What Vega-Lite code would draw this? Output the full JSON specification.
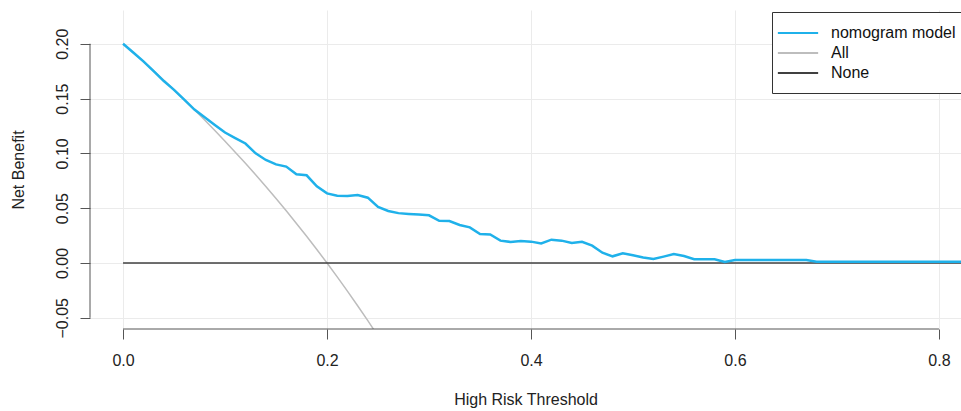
{
  "$schema": "https://vega.github.io/schema/vega-lite/v6.json",
  "width": 871,
  "height": 319,
  "autosize": {"type": "none"},
  "padding": {"left": 90, "top": 10, "right": 0, "bottom": 82},
  "background": "white",
  "config": {
    "view": {"stroke": null},
    "font": "Liberation Sans",
    "axis": {"labelFont": "Liberation Sans", "titleFont": "Liberation Sans"},
    "legend": {"labelFont": "Liberation Sans"}
  },
  "datasets": {
    "curves": [
      {"t": 0.00, "nb": 0.200, "series": "nomogram model"},
      {"t": 0.01, "nb": 0.192, "series": "nomogram model"},
      {"t": 0.02, "nb": 0.184, "series": "nomogram model"},
      {"t": 0.03, "nb": 0.175, "series": "nomogram model"},
      {"t": 0.04, "nb": 0.166, "series": "nomogram model"},
      {"t": 0.05, "nb": 0.158, "series": "nomogram model"},
      {"t": 0.06, "nb": 0.149, "series": "nomogram model"},
      {"t": 0.07, "nb": 0.140, "series": "nomogram model"},
      {"t": 0.08, "nb": 0.133, "series": "nomogram model"},
      {"t": 0.09, "nb": 0.126, "series": "nomogram model"},
      {"t": 0.10, "nb": 0.119, "series": "nomogram model"},
      {"t": 0.11, "nb": 0.114, "series": "nomogram model"},
      {"t": 0.12, "nb": 0.109, "series": "nomogram model"},
      {"t": 0.13, "nb": 0.100, "series": "nomogram model"},
      {"t": 0.14, "nb": 0.094, "series": "nomogram model"},
      {"t": 0.15, "nb": 0.090, "series": "nomogram model"},
      {"t": 0.16, "nb": 0.088, "series": "nomogram model"},
      {"t": 0.17, "nb": 0.081, "series": "nomogram model"},
      {"t": 0.18, "nb": 0.080, "series": "nomogram model"},
      {"t": 0.19, "nb": 0.070, "series": "nomogram model"},
      {"t": 0.20, "nb": 0.0635, "series": "nomogram model"},
      {"t": 0.21, "nb": 0.0614, "series": "nomogram model"},
      {"t": 0.22, "nb": 0.0612, "series": "nomogram model"},
      {"t": 0.23, "nb": 0.0620, "series": "nomogram model"},
      {"t": 0.24, "nb": 0.0596, "series": "nomogram model"},
      {"t": 0.25, "nb": 0.0512, "series": "nomogram model"},
      {"t": 0.26, "nb": 0.0475, "series": "nomogram model"},
      {"t": 0.27, "nb": 0.0455, "series": "nomogram model"},
      {"t": 0.28, "nb": 0.0448, "series": "nomogram model"},
      {"t": 0.29, "nb": 0.0442, "series": "nomogram model"},
      {"t": 0.30, "nb": 0.0435, "series": "nomogram model"},
      {"t": 0.31, "nb": 0.0385, "series": "nomogram model"},
      {"t": 0.32, "nb": 0.0383, "series": "nomogram model"},
      {"t": 0.33, "nb": 0.0347, "series": "nomogram model"},
      {"t": 0.34, "nb": 0.0325, "series": "nomogram model"},
      {"t": 0.35, "nb": 0.0265, "series": "nomogram model"},
      {"t": 0.36, "nb": 0.0260, "series": "nomogram model"},
      {"t": 0.37, "nb": 0.0204, "series": "nomogram model"},
      {"t": 0.38, "nb": 0.0192, "series": "nomogram model"},
      {"t": 0.39, "nb": 0.0200, "series": "nomogram model"},
      {"t": 0.40, "nb": 0.0195, "series": "nomogram model"},
      {"t": 0.41, "nb": 0.0179, "series": "nomogram model"},
      {"t": 0.42, "nb": 0.0213, "series": "nomogram model"},
      {"t": 0.43, "nb": 0.0204, "series": "nomogram model"},
      {"t": 0.44, "nb": 0.0182, "series": "nomogram model"},
      {"t": 0.45, "nb": 0.0194, "series": "nomogram model"},
      {"t": 0.46, "nb": 0.0158, "series": "nomogram model"},
      {"t": 0.47, "nb": 0.0094, "series": "nomogram model"},
      {"t": 0.48, "nb": 0.0061, "series": "nomogram model"},
      {"t": 0.49, "nb": 0.0088, "series": "nomogram model"},
      {"t": 0.50, "nb": 0.0070, "series": "nomogram model"},
      {"t": 0.51, "nb": 0.0050, "series": "nomogram model"},
      {"t": 0.52, "nb": 0.0036, "series": "nomogram model"},
      {"t": 0.53, "nb": 0.0058, "series": "nomogram model"},
      {"t": 0.54, "nb": 0.0082, "series": "nomogram model"},
      {"t": 0.55, "nb": 0.0064, "series": "nomogram model"},
      {"t": 0.56, "nb": 0.0034, "series": "nomogram model"},
      {"t": 0.57, "nb": 0.0034, "series": "nomogram model"},
      {"t": 0.58, "nb": 0.0034, "series": "nomogram model"},
      {"t": 0.59, "nb": 0.0009, "series": "nomogram model"},
      {"t": 0.60, "nb": 0.0027, "series": "nomogram model"},
      {"t": 0.61, "nb": 0.0027, "series": "nomogram model"},
      {"t": 0.62, "nb": 0.0027, "series": "nomogram model"},
      {"t": 0.63, "nb": 0.0027, "series": "nomogram model"},
      {"t": 0.64, "nb": 0.0027, "series": "nomogram model"},
      {"t": 0.65, "nb": 0.0027, "series": "nomogram model"},
      {"t": 0.66, "nb": 0.0027, "series": "nomogram model"},
      {"t": 0.67, "nb": 0.0027, "series": "nomogram model"},
      {"t": 0.68, "nb": 0.0012, "series": "nomogram model"},
      {"t": 0.69, "nb": 0.0012, "series": "nomogram model"},
      {"t": 0.70, "nb": 0.0012, "series": "nomogram model"},
      {"t": 0.71, "nb": 0.0012, "series": "nomogram model"},
      {"t": 0.72, "nb": 0.0012, "series": "nomogram model"},
      {"t": 0.73, "nb": 0.0012, "series": "nomogram model"},
      {"t": 0.74, "nb": 0.0012, "series": "nomogram model"},
      {"t": 0.75, "nb": 0.0012, "series": "nomogram model"},
      {"t": 0.76, "nb": 0.0012, "series": "nomogram model"},
      {"t": 0.77, "nb": 0.0012, "series": "nomogram model"},
      {"t": 0.78, "nb": 0.0012, "series": "nomogram model"},
      {"t": 0.79, "nb": 0.0012, "series": "nomogram model"},
      {"t": 0.80, "nb": 0.0012, "series": "nomogram model"},
      {"t": 0.81, "nb": 0.0012, "series": "nomogram model"},
      {"t": 0.82, "nb": 0.0012, "series": "nomogram model"},
      {"t": 0.83, "nb": 0.0012, "series": "nomogram model"},
      {"t": 0.00, "nb": 0.2000, "series": "All"},
      {"t": 0.01, "nb": 0.1919, "series": "All"},
      {"t": 0.02, "nb": 0.1837, "series": "All"},
      {"t": 0.03, "nb": 0.1753, "series": "All"},
      {"t": 0.04, "nb": 0.1667, "series": "All"},
      {"t": 0.05, "nb": 0.1579, "series": "All"},
      {"t": 0.06, "nb": 0.1489, "series": "All"},
      {"t": 0.07, "nb": 0.1398, "series": "All"},
      {"t": 0.08, "nb": 0.1304, "series": "All"},
      {"t": 0.09, "nb": 0.1209, "series": "All"},
      {"t": 0.10, "nb": 0.1111, "series": "All"},
      {"t": 0.11, "nb": 0.1011, "series": "All"},
      {"t": 0.12, "nb": 0.0909, "series": "All"},
      {"t": 0.13, "nb": 0.0805, "series": "All"},
      {"t": 0.14, "nb": 0.0698, "series": "All"},
      {"t": 0.15, "nb": 0.0588, "series": "All"},
      {"t": 0.16, "nb": 0.0476, "series": "All"},
      {"t": 0.17, "nb": 0.0361, "series": "All"},
      {"t": 0.18, "nb": 0.0244, "series": "All"},
      {"t": 0.19, "nb": 0.0123, "series": "All"},
      {"t": 0.20, "nb": 0.0000, "series": "All"},
      {"t": 0.21, "nb": -0.0127, "series": "All"},
      {"t": 0.22, "nb": -0.0256, "series": "All"},
      {"t": 0.23, "nb": -0.0390, "series": "All"},
      {"t": 0.24, "nb": -0.0526, "series": "All"},
      {"t": 0.25, "nb": -0.0667, "series": "All"},
      {"t": 0.00, "nb": 0.0, "series": "None"},
      {"t": 0.83, "nb": 0.0, "series": "None"}
    ]
  },
  "layer": [
    {
      "data": {"name": "curves"},
      "transform": [{"filter": "datum.series === 'All'"}],
      "mark": {"type": "line", "clip": true, "strokeWidth": 1.5},
      "encoding": {
        "x": {
          "field": "t", "type": "quantitative",
          "scale": {"domain": [-0.0324, 0.8216], "nice": false, "zero": false},
          "axis": {
            "values": [0, 0.2, 0.4, 0.6, 0.8], "format": ".1f",
            "domain": false, "tickSize": 10, "tickColor": "#555555", "tickWidth": 1,
            "grid": true, "gridColor": "#EBEBEB", "gridWidth": 1,
            "labelFontSize": 16, "labelPadding": 13, "labelColor": "#222222", "labelFlush": false,
            "title": "High Risk Threshold", "titleFontSize": 16, "titleFontWeight": "normal",
            "titleColor": "#222222", "titlePadding": 23
          }
        },
        "y": {
          "field": "nb", "type": "quantitative",
          "scale": {"domain": [-0.0602, 0.2308], "nice": false, "zero": false},
          "axis": {
            "values": [-0.05, 0, 0.05, 0.1, 0.15, 0.2], "format": ".2f",
            "domain": false, "tickSize": 10, "tickColor": "#555555", "tickWidth": 1,
            "grid": true, "gridColor": "#EBEBEB", "gridWidth": 1,
            "labelFontSize": 16, "labelPadding": 13, "labelColor": "#222222", "labelFlush": false,
            "labelAngle": -90, "labelAlign": "center", "labelBaseline": "alphabetic",
            "title": "Net Benefit", "titleFontSize": 16, "titleFontWeight": "normal",
            "titleColor": "#222222", "titlePadding": 28
          }
        },
        "color": {
          "field": "series", "type": "nominal",
          "scale": {"domain": ["nomogram model", "All", "None"], "range": ["#1FB1EA", "#BDBDBD", "#404040"]},
          "legend": {
            "orient": "none", "legendX": 682, "legendY": 2, "title": null,
            "symbolType": "M-2.6,0H2.6", "symbolSize": 240, "symbolStrokeWidth": 2,
            "symbolOffset": 5,
            "labelFontSize": 16, "labelOffset": 24, "labelColor": "#111111",
            "strokeColor": "#333333", "fillColor": "white", "padding": 12, "rowPadding": 3
          }
        }
      }
    },
    {
      "data": {"name": "curves"},
      "transform": [{"filter": "datum.series === 'None'"}],
      "mark": {"type": "line", "clip": true, "strokeWidth": 1.5},
      "encoding": {
        "x": {"field": "t", "type": "quantitative"},
        "y": {"field": "nb", "type": "quantitative"},
        "color": {"field": "series", "type": "nominal"}
      }
    },
    {
      "data": {"name": "curves"},
      "transform": [{"filter": "datum.series === 'nomogram model'"}],
      "mark": {"type": "line", "clip": true, "strokeWidth": 2.5},
      "encoding": {
        "x": {"field": "t", "type": "quantitative"},
        "y": {"field": "nb", "type": "quantitative"},
        "color": {"field": "series", "type": "nominal"}
      }
    },
    {
      "data": {"values": [{}]},
      "mark": {"type": "rule", "color": "#555555", "strokeWidth": 1},
      "encoding": {
        "x": {"datum": -0.0324, "type": "quantitative"},
        "y": {"datum": -0.05, "type": "quantitative"},
        "y2": {"datum": 0.2}
      }
    },
    {
      "data": {"values": [{}]},
      "mark": {"type": "rule", "color": "#555555", "strokeWidth": 1},
      "encoding": {
        "x": {"datum": 0, "type": "quantitative"},
        "x2": {"datum": 0.8},
        "y": {"datum": -0.0602, "type": "quantitative"}
      }
    }
  ]
}
